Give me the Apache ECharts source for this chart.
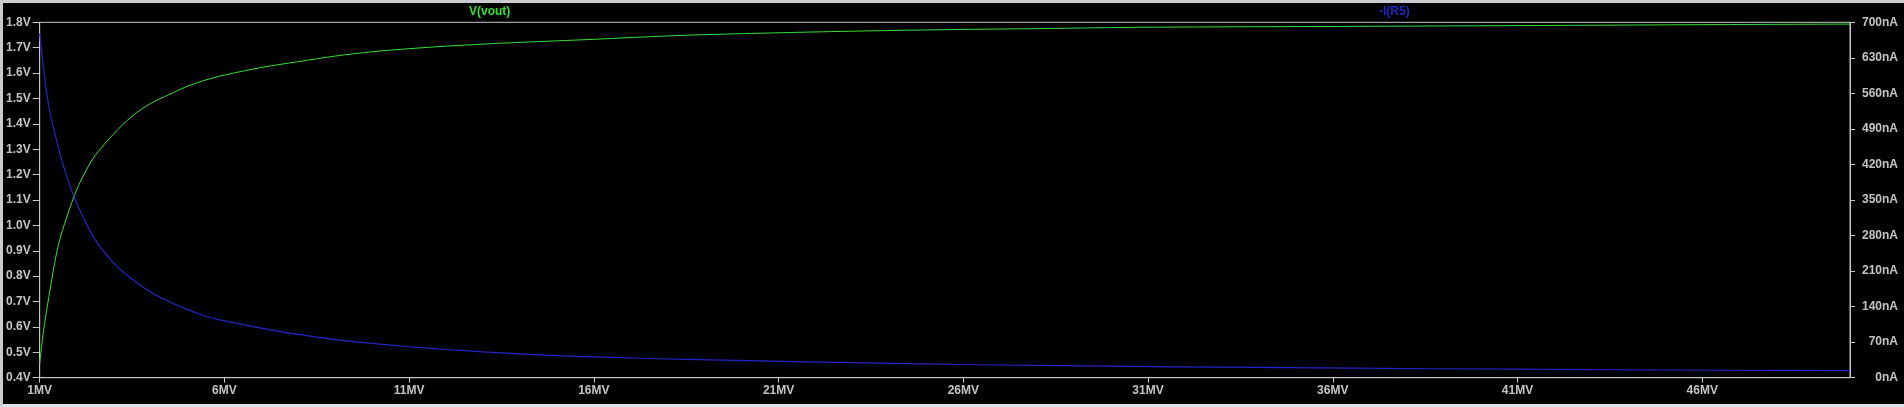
<!DOCTYPE html>
<html>
<head>
<meta charset="utf-8">
<script src="https://cdn.jsdelivr.net/npm/echarts@6/dist/echarts.min.js"></script>
<style>
  html, body { margin: 0; padding: 0; background: #d3d7dd; }
  #wrap { position: absolute; left: 0; top: 0; width: 1904px; height: 407px; box-sizing: border-box;
          border-top: 3px solid #c9cbcf; border-left: 3px solid #c9cbcf; border-bottom: 3px solid #dbe4ee; background: #000; }
  #chart { width: 1901px; height: 401px; }
</style>
</head>
<body>
<div id="wrap"><div id="chart"></div></div>
<script>
// Sweep values (MV)
const sweepMV = [1, 1.1, 1.25, 1.5, 1.75, 2, 2.25, 2.5, 3, 3.5, 4, 4.5, 5, 5.5, 6, 7, 8, 9, 10, 11, 12, 13, 14, 15, 16, 17, 18.5, 20.5, 23, 26, 28, 30.5, 33, 36.5, 41, 46.5, 50];
// V(vout) in volts
const vout = [0.455, 0.58, 0.72, 0.92, 1.04, 1.14, 1.215, 1.275, 1.36, 1.43, 1.48, 1.515, 1.548, 1.573, 1.592, 1.622, 1.645, 1.667, 1.684, 1.696, 1.706, 1.714, 1.721, 1.727, 1.733, 1.740, 1.749, 1.757, 1.765, 1.772, 1.775, 1.780, 1.782, 1.784, 1.787, 1.791, 1.793];
// -I(R5) in nA
const iR5 = [678, 612, 533, 455, 392, 344, 305, 272, 226, 194, 169, 150, 134, 121, 112, 97.8, 85.2, 75, 67.5, 61, 55.5, 51, 47, 43.3, 41, 38.8, 36, 33, 29.5, 26, 24.2, 22.3, 20.7, 18.7, 16.7, 14.7, 13.8];
// Axis tick settings
const xTicks = { min: 1, max: 50, interval: 5, unit: 'MV' };
const vTicks = { min: 0.4, max: 1.8, interval: 0.1, unit: 'V' };
const iTicks = { min: 0, max: 700, interval: 70, unit: 'nA' };
const seriesNames = ['V(vout)', '-I(R5)'];

const labelFont = { color: '#c4c4c4', fontSize: 12, fontWeight: 'bold', fontFamily: 'Liberation Sans, Arial, sans-serif' };
const axisColor = '#c8c8c8';

const chart = echarts.init(document.getElementById('chart'), null, { renderer: 'canvas' });
chart.setOption({
  backgroundColor: '#000',
  animation: false,
  grid: { left: 36.3, top: 19.3, right: 54, bottom: 26.3, show: true, borderColor: axisColor, borderWidth: 1, backgroundColor: '#000' },
  graphic: [
    { type: 'text', left: 488 - 22, top: 3, style: { text: seriesNames[0], fill: '#33e033', font: 'bold 12px "Liberation Sans", Arial, sans-serif' } },
    { type: 'text', left: 1393 - 17, top: 3, style: { text: seriesNames[1], fill: '#2424c8', font: 'bold 12px "Liberation Sans", Arial, sans-serif' } }
  ],
  xAxis: {
    type: 'value', min: xTicks.min, max: xTicks.max, interval: xTicks.interval,
    axisLine: { show: true, lineStyle: { color: axisColor, width: 1 } },
    axisTick: { show: true, inside: false, length: 5, lineStyle: { color: axisColor } },
    splitLine: { show: false },
    axisLabel: Object.assign({ margin: 7, showMaxLabel: false, formatter: v => v + xTicks.unit }, labelFont)
  },
  yAxis: [
    {
      type: 'value', position: 'left', min: vTicks.min, max: vTicks.max, interval: vTicks.interval,
      axisLine: { show: true, lineStyle: { color: axisColor } },
      axisTick: { show: true, length: 7, lineStyle: { color: axisColor } },
      splitLine: { show: false },
      axisLabel: Object.assign({ margin: 9, formatter: v => v.toFixed(1) + vTicks.unit }, labelFont)
    },
    {
      type: 'value', position: 'right', min: iTicks.min, max: iTicks.max, interval: iTicks.interval,
      axisLine: { show: true, lineStyle: { color: axisColor } },
      axisTick: { show: true, length: 5, lineStyle: { color: axisColor } },
      splitLine: { show: false },
      axisLabel: Object.assign({ margin: 48, align: 'right', formatter: v => Math.round(v) + iTicks.unit }, labelFont)
    }
  ],
  series: [
    {
      name: seriesNames[0], type: 'line', yAxisIndex: 0, showSymbol: false, smooth: 0.3,
      lineStyle: { color: '#33e033', width: 1 },
      data: sweepMV.map((x, i) => [x, vout[i]])
    },
    {
      name: seriesNames[1], type: 'line', yAxisIndex: 1, showSymbol: false, smooth: 0.3,
      lineStyle: { color: '#2424c8', width: 1.2 },
      data: sweepMV.map((x, i) => [x, iR5[i]])
    }
  ]
});
</script>
</body>
</html>
